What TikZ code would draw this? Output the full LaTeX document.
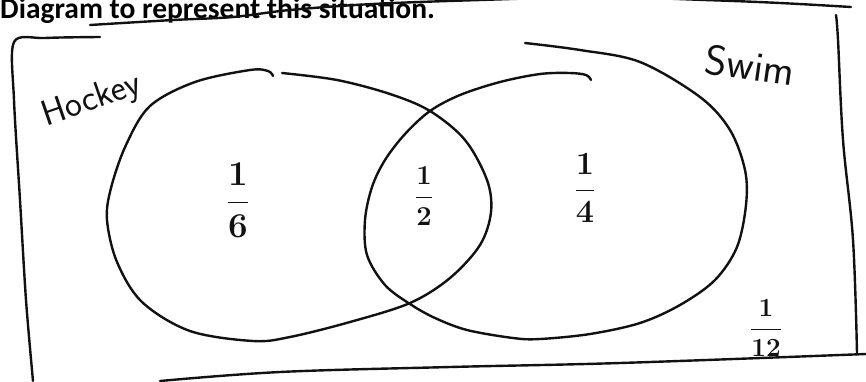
\documentclass[tikz,border=0pt]{standalone}
\usepackage{fontspec}
\usepackage{amsmath}
\usetikzlibrary{positioning}
\newfontfamily\headfont{Carlito}
\definecolor{ink}{HTML}{111111}

\begin{document}
\begin{tikzpicture}[
    x=1pt,
    y=-1pt,
    hand/.style={draw=ink, line width=2.4pt, line cap=round, line join=round},
    title/.style={font=\headfont\bfseries\fontsize{29.5}{31}\selectfont, anchor=base west, inner sep=0pt},
    setlab/.style={font=\sffamily\fontsize{36}{38}\selectfont, text=ink, inner sep=0pt},
    part/.style={font=\boldmath\fontsize{24}{26}\selectfont, text=ink, inner sep=0pt}
  ]
    \useasboundingbox (0,0) rectangle (866,381);
    \node[title] (heading) at (0,18) {Diagram to represent this situation.};

    % hand drawn frame
    \draw[hand] plot[smooth, tension=0.6] coordinates {(90,25) (173,20) (233,17) (290,10) (373,4) (480,0) (600,-3) (705,0) (780,3) (851,7)};
    \draw[hand] plot[smooth, tension=0.5] coordinates {(100,37) (45,38) (14,42) (14,100) (20,200) (26,300) (33,381)};
    \draw[hand] plot[smooth, tension=0.6] coordinates {(836,15) (838,40) (843,140) (853,240) (857,353)};
    \draw[hand] plot[smooth, tension=0.6] coordinates {(160,381) (280,372) (450,367) (620,363) (866,354)};

    % the two sets
    \draw[hand] plot[smooth, tension=0.55] coordinates {(282,73) (337,80) (390,94) (430,111) (465,140) (487,180) (491,212) (480,245) (450,278) (410,303) (350,322) (290,337) (253,341) (190,331) (142,302) (117,262) (107,220) (111,188) (126,145) (150,106) (195,82) (250,70) (268,71) (273,76)};
    \draw[hand] plot[smooth, tension=0.55] coordinates {(525,43) (580,50) (640,62) (700,97) (730,130) (745,170) (746,205) (737,247) (715,280) (680,305) (640,323) (590,334) (540,339) (513,338) (467,330) (435,318) (410,304) (385,285) (367,255) (365,220) (372,187) (385,160) (405,134) (430,111) (460,95) (500,82) (540,74) (570,73) (586,75) (591,80)};

    \node[setlab, rotate=19] (hockey) at (92,101) {Hockey};
    \node[setlab, rotate=-8, font=\sffamily\fontsize{42}{44}\selectfont] (swim) at (750,65) {Swim};

    \node[part, scale=1.4] (onlyh) at (238,200) {$\dfrac{1}{6}$};
    \node[part, scale=1.1] (both) at (424,196) {$\dfrac{1}{2}$};
    \node[part, scale=1.3] (onlys) at (585,188) {$\dfrac{1}{4}$};
    \node[part, scale=1.05] (neither) at (766,328) {$\dfrac{1}{12}$};
  \end{tikzpicture}
\end{document}
